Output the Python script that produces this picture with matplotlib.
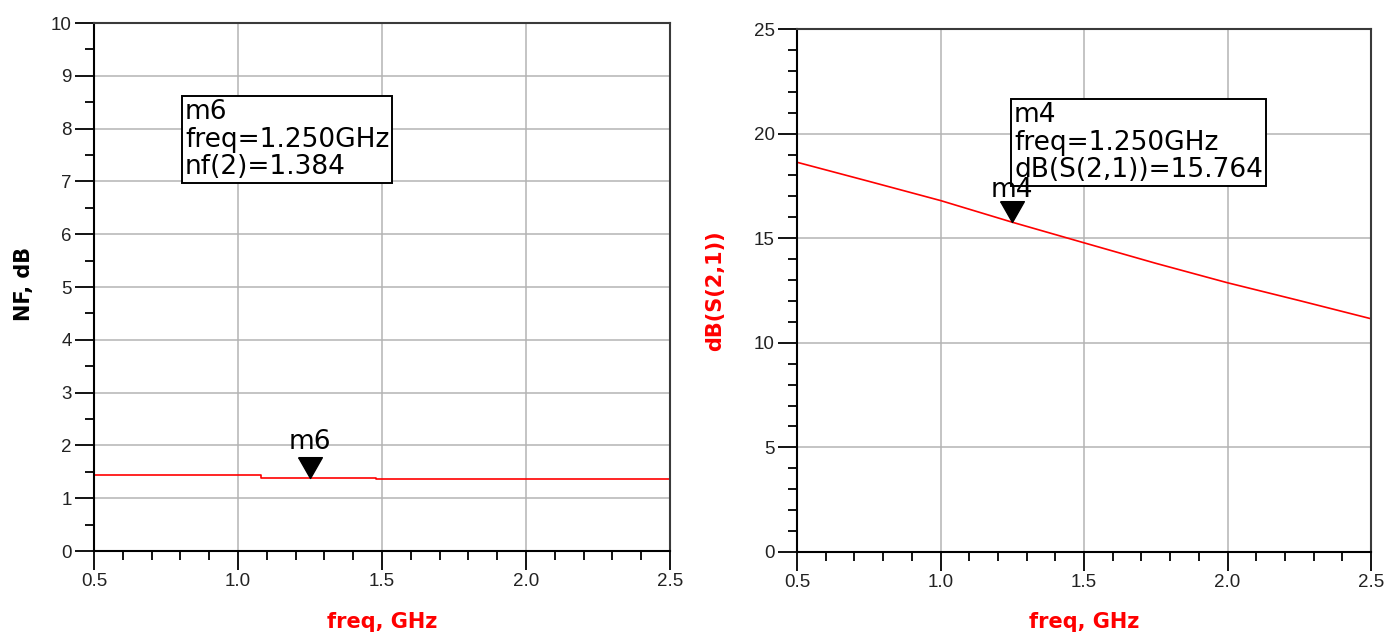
import matplotlib
matplotlib.use("Agg")
import matplotlib.pyplot as plt
from matplotlib.ticker import MultipleLocator, FormatStrFormatter

# ---- data ----
nf_freq = [0.5, 1.08, 1.48, 2.5]          # GHz (step breakpoints)
nf_vals = [1.43, 1.384, 1.36, 1.36]        # dB
s21_freq = [0.5, 0.75, 1.0, 1.25, 1.5, 1.75, 2.0, 2.25, 2.5]
s21_vals = [18.63, 17.72, 16.80, 15.764, 14.78, 13.80, 12.87, 12.02, 11.15]
marker_freq = 1.25
m6_val = 1.384
m4_val = 15.764
m6_text = "m6\nfreq=1.250GHz\nnf(2)=1.384"
m4_text = "m4\nfreq=1.250GHz\ndB(S(2,1))=15.764"
x_ticks = [0.5, 1.0, 1.5, 2.0, 2.5]

tick_font = "Liberation Sans"

W, H = 1398, 640
fig = plt.figure(figsize=(W / 100, H / 100), dpi=100)

def px_axes(x0, x1, y0, y1):
    return fig.add_axes([x0 / W, 1 - y1 / H, (x1 - x0) / W, (y1 - y0) / H])

ax1 = px_axes(94, 670, 23, 551)
ax2 = px_axes(797, 1371, 29, 552)

tri = [(-0.57, 1.0), (0.57, 1.0), (0.0, 0.0), (-0.57, 1.0)]

def style(ax, ymax, ymajor, yminor):
    ax.set_xlim(0.5, 2.5)
    ax.set_ylim(0, ymax)
    ax.set_xticks(x_ticks)
    ax.xaxis.set_minor_locator(MultipleLocator(0.1))
    ax.yaxis.set_major_locator(MultipleLocator(ymajor))
    ax.yaxis.set_minor_locator(MultipleLocator(yminor))
    ax.xaxis.set_major_formatter(FormatStrFormatter("%.1f"))
    ax.yaxis.set_major_formatter(FormatStrFormatter("%d"))
    ax.grid(True, which="major", color="#b4b4b4", linewidth=1.1)
    ax.set_axisbelow(True)
    ax.tick_params(which="major", direction="out", length=13.5, width=1.3,
                   color="black", labelsize=13.5, pad=2.5, labelcolor="#222222")
    ax.tick_params(which="minor", direction="out", length=6.5, width=1.3,
                   color="black")
    for lab in ax.get_xticklabels() + ax.get_yticklabels():
        lab.set_fontfamily(tick_font)
    for s in ["left", "bottom"]:
        ax.spines[s].set_color("black")
        ax.spines[s].set_linewidth(1.5)
    for s in ["top", "right"]:
        ax.spines[s].set_color("#3a3a3a")
        ax.spines[s].set_linewidth(1.5)

style(ax1, 10, 1, 0.5)
style(ax2, 25, 5, 1)

box_fs = 19

# NF plot
ax1.plot(nf_freq, nf_vals, color="red", linewidth=1.2, drawstyle="steps-post")
ax1.plot([marker_freq], [m6_val], marker=tri, markersize=30, color="black",
         linestyle="none", zorder=5)
ax1.annotate("m6", (marker_freq, m6_val), xytext=(0, 26), textcoords="offset points",
             ha="center", va="center", fontsize=box_fs, family="DejaVu Sans", zorder=6)
ax1.text((185 - 94) / 576, (551 - 99) / 528, m6_text, transform=ax1.transAxes,
         ha="left", va="top", fontsize=box_fs, family="DejaVu Sans", linespacing=1.08,
         bbox=dict(boxstyle="square,pad=0.1", facecolor="white", edgecolor="black",
                   linewidth=1.4), zorder=7)
ax1.set_xlabel("freq, GHz", color="red", fontsize=15, fontweight="bold",
               family="DejaVu Sans")
ax1.xaxis.set_label_coords(0.5, -(612 - 551) / 528)
ax1.set_ylabel("NF, dB", color="black", fontsize=15, fontweight="bold",
               family="DejaVu Sans")
ax1.yaxis.set_label_coords((34 - 94) / 576, 0.505)

# S21 plot
ax2.plot(s21_freq, s21_vals, color="red", linewidth=1.2)
ax2.plot([marker_freq], [m4_val], marker=tri, markersize=30, color="black",
         linestyle="none", zorder=5)
ax2.annotate("m4", (marker_freq, m4_val), xytext=(0, 23), textcoords="offset points",
             ha="center", va="center", fontsize=box_fs, family="DejaVu Sans", zorder=8)
ax2.text((1014 - 797) / 574, (552 - 102) / 523, m4_text, transform=ax2.transAxes,
         ha="left", va="top", fontsize=box_fs, family="DejaVu Sans", linespacing=1.08,
         bbox=dict(boxstyle="square,pad=0.1", facecolor="white", edgecolor="black",
                   linewidth=1.4), zorder=7)
ax2.set_xlabel("freq, GHz", color="red", fontsize=15, fontweight="bold",
               family="DejaVu Sans")
ax2.xaxis.set_label_coords(0.5, -(612 - 552) / 523)
ax2.set_ylabel("dB(S(2,1))", color="red", fontsize=15, fontweight="bold",
               family="DejaVu Sans")
ax2.yaxis.set_label_coords((725 - 797) / 574, 0.5)

fig.savefig("out.png", dpi=100, facecolor="white")
